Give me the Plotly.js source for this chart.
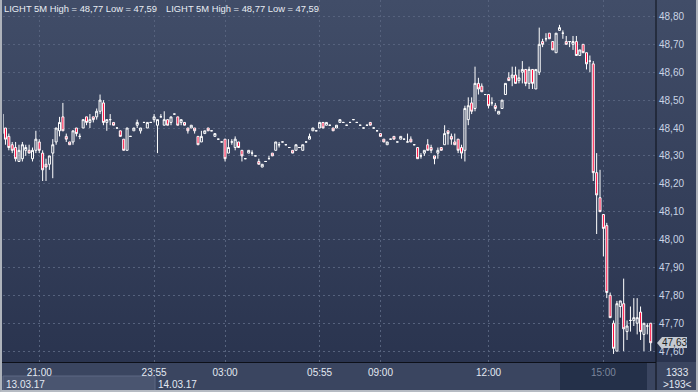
<!DOCTYPE html>
<html>
<head>
<meta charset="utf-8">
<script src="https://cdn.plot.ly/plotly-3.0.1.min.js"></script>
<style>
  html, body { margin: 0; padding: 0; background: #b9bdc5; }
  #wrap { position: relative; width: 698px; height: 392px; overflow: hidden;
          background: linear-gradient(to bottom, #414d68 0px, #2a344f 362px, #3a4560 363px, #3a4560 392px); }
  #chart { position: absolute; left: 0; top: 0; width: 698px; height: 392px; }
  #frame { position: absolute; left: 0; top: 0; width: 698px; height: 392px; box-sizing: border-box;
           border-left: 2px solid #aeb3bb; border-right: 2px solid #aeb3bb; border-bottom: 2px solid #b6bbc3; pointer-events: none; }
</style>
</head>
<body>
<div id="wrap"><div id="chart"></div><div id="frame"></div></div>
<script>
// ---- data: LIGHT 5M candles ----
const open = [48.38,48.40,48.37,48.34,48.33,48.28,48.29,48.32,48.32,48.29,48.32,48.35,48.31,48.27,48.27,48.31,48.35,48.39,48.44,48.37,
48.35,48.35,48.40,48.37,48.40,48.44,48.42,48.44,48.44,48.46,48.49,48.42,48.43,48.42,48.40,48.39,48.36,48.32,48.37,48.39,
48.41,48.39,48.42,48.40,48.42,48.43,48.41,48.44,48.41,48.43,48.42,48.45,48.44,48.42,48.42,48.40,48.40,48.40,48.37,48.35,
48.38,48.40,48.39,48.37,48.36,48.35,48.36,48.31,48.35,48.33,48.35,48.32,48.29,48.31,48.31,48.30,48.28,48.26,48.28,48.29,
48.31,48.32,48.34,48.35,48.34,48.33,48.32,48.32,48.33,48.32,48.35,48.36,48.39,48.39,48.40,48.42,48.41,48.41,48.40,48.40,
48.42,48.42,48.41,48.42,48.43,48.42,48.41,48.40,48.41,48.42,48.40,48.39,48.38,48.36,48.34,48.36,48.37,48.35,48.36,48.36,
48.35,48.36,48.34,48.33,48.30,48.31,48.34,48.33,48.30,48.31,48.33,48.34,48.39,48.37,48.35,48.36,48.33,48.32,48.43,48.49,
48.47,48.56,48.55,48.52,48.52,48.49,48.48,48.45,48.47,48.52,48.58,48.58,48.59,48.57,48.60,48.61,48.56,48.61,48.54,48.60,
48.71,48.72,48.74,48.71,48.67,48.75,48.74,48.71,48.71,48.70,48.71,48.66,48.70,48.67,48.64,48.63,48.24,48.15,48.09,48.05,
47.80,47.70,47.60,47.76,47.77,47.67,47.71,47.71,47.70,47.74,47.66,47.69,47.70];
const high = [48.47,48.40,48.38,48.35,48.35,48.34,48.35,48.34,48.34,48.33,48.39,48.36,48.32,48.29,48.30,48.36,48.40,48.44,48.49,48.38,
48.35,48.39,48.40,48.38,48.43,48.44,48.45,48.44,48.47,48.52,48.50,48.43,48.45,48.42,48.40,48.39,48.36,48.40,48.37,48.40,
48.43,48.40,48.42,48.42,48.42,48.45,48.43,48.45,48.46,48.43,48.44,48.45,48.44,48.43,48.42,48.40,48.41,48.40,48.37,48.39,
48.39,48.40,48.39,48.38,48.36,48.35,48.36,48.36,48.36,48.37,48.35,48.32,48.29,48.32,48.32,48.30,48.29,48.27,48.28,48.30,
48.31,48.35,48.35,48.35,48.34,48.33,48.32,48.34,48.33,48.34,48.35,48.38,48.40,48.39,48.42,48.42,48.42,48.41,48.40,48.41,
48.43,48.42,48.41,48.42,48.43,48.42,48.41,48.40,48.41,48.42,48.40,48.39,48.38,48.36,48.35,48.36,48.37,48.35,48.37,48.36,
48.38,48.37,48.34,48.33,48.31,48.32,48.36,48.34,48.30,48.33,48.33,48.41,48.39,48.38,48.38,48.36,48.34,48.48,48.51,48.51,
48.62,48.58,48.56,48.52,48.52,48.51,48.49,48.46,48.50,48.56,48.60,48.62,48.62,48.61,48.64,48.61,48.62,48.61,48.61,48.76,
48.72,48.74,48.74,48.71,48.74,48.77,48.75,48.73,48.71,48.73,48.73,48.68,48.70,48.67,48.66,48.64,48.31,48.25,48.09,48.06,
47.81,47.71,47.78,47.78,47.86,47.71,47.76,47.79,47.79,47.76,47.70,47.70,47.70];
const low = [48.36,48.34,48.32,48.31,48.28,48.28,48.28,48.30,48.31,48.28,48.31,48.31,48.21,48.21,48.25,48.22,48.34,48.37,48.39,48.35,
48.34,48.34,48.37,48.36,48.40,48.41,48.40,48.42,48.43,48.45,48.41,48.39,48.41,48.41,48.40,48.37,48.32,48.32,48.37,48.39,
48.40,48.38,48.42,48.40,48.42,48.42,48.31,48.44,48.41,48.41,48.41,48.45,48.41,48.41,48.41,48.38,48.40,48.38,48.34,48.35,
48.38,48.39,48.39,48.37,48.36,48.35,48.28,48.31,48.34,48.32,48.33,48.28,48.29,48.31,48.30,48.30,48.27,48.26,48.28,48.29,
48.30,48.32,48.33,48.35,48.34,48.33,48.31,48.32,48.33,48.32,48.35,48.36,48.39,48.39,48.40,48.40,48.41,48.41,48.39,48.40,
48.42,48.42,48.41,48.42,48.43,48.42,48.41,48.40,48.41,48.41,48.40,48.39,48.37,48.35,48.34,48.36,48.36,48.35,48.36,48.36,
48.35,48.35,48.34,48.29,48.29,48.30,48.32,48.31,48.27,48.29,48.32,48.34,48.34,48.34,48.34,48.31,48.29,48.28,48.41,48.45,
48.46,48.52,48.53,48.52,48.47,48.48,48.46,48.45,48.47,48.52,48.57,48.55,48.56,48.56,48.56,48.55,48.54,48.54,48.54,48.59,
48.69,48.71,48.72,48.68,48.67,48.75,48.72,48.70,48.69,48.68,48.66,48.66,48.67,48.61,48.60,48.21,48.02,48.10,47.94,47.79,
47.72,47.59,47.60,47.72,47.60,47.64,47.67,47.69,47.66,47.64,47.60,47.66,47.60];
const close = [48.45,48.36,48.33,48.32,48.29,48.32,48.34,48.33,48.31,48.32,48.36,48.32,48.25,48.26,48.30,48.34,48.40,48.42,48.39,48.36,
48.34,48.39,48.38,48.37,48.43,48.42,48.43,48.43,48.46,48.50,48.42,48.43,48.43,48.41,48.40,48.37,48.32,48.40,48.37,48.40,
48.42,48.40,48.42,48.42,48.42,48.44,48.43,48.44,48.43,48.41,48.44,48.45,48.41,48.43,48.41,48.39,48.41,48.39,48.34,48.37,
48.39,48.39,48.39,48.38,48.36,48.35,48.29,48.33,48.35,48.36,48.33,48.30,48.29,48.32,48.31,48.30,48.27,48.27,48.28,48.29,
48.30,48.35,48.34,48.35,48.34,48.33,48.31,48.34,48.33,48.34,48.35,48.37,48.40,48.39,48.42,48.40,48.42,48.41,48.39,48.41,
48.43,48.42,48.41,48.42,48.43,48.42,48.41,48.40,48.41,48.41,48.40,48.39,48.37,48.35,48.35,48.36,48.36,48.35,48.37,48.36,
48.35,48.35,48.34,48.29,48.30,48.32,48.32,48.32,48.29,48.32,48.32,48.38,48.38,48.36,48.34,48.32,48.31,48.47,48.48,48.46,
48.56,48.54,48.53,48.52,48.48,48.49,48.47,48.46,48.50,48.56,48.57,48.59,48.56,48.58,48.61,48.56,48.61,48.56,48.61,48.70,
48.70,48.72,48.72,48.68,48.74,48.76,48.74,48.70,48.71,48.71,48.66,48.68,48.67,48.63,48.64,48.24,48.16,48.10,48.04,47.81,
47.72,47.61,47.77,47.78,47.68,47.69,47.71,47.72,47.72,47.67,47.70,47.69,47.63];

const timeLabels = ['21:00','23:55','03:00','05:55','09:00','12:00','15:00'];
const timeBars   = [11, 45, 66, 94, 112, 144, 178];
const yTicks = [47.6,47.7,47.8,47.9,48.0,48.1,48.2,48.3,48.4,48.5,48.6,48.7,48.8];
const dateLabels = ['13.03.17','14.03.17'];
const barCount = 1333, visibleBars = 193;
const symbol = 'LIGHT 5M';

// ---- derived ----
const idx = close.map((_, i) => i);
const hi = Math.max(...high), lo = Math.min(...low);
const fmt = v => v.toFixed(2).replace('.', ',');
const legendText = symbol + ' High = ' + fmt(hi) + ' Low = ' + fmt(lo);
const last = close[close.length - 1];

const FONT = 'Liberation Sans, Arial, sans-serif';
const W = 698, H = 392, L = 3, R = 42, T = 0, B = 30;
const pw = W - L - R, ph = H - T - B;
const px = x => (x - L) / pw;          // pixel -> paper x
const py = y => (H - B - y) / ph;      // pixel -> paper y

const trace = {
  type: 'candlestick', x: idx, open: open, high: high, low: low, close: close,
  increasing: { line: { color: '#ffffff', width: 1 }, fillcolor: 'rgba(0,0,0,0)' },
  decreasing: { line: { color: '#ffffff', width: 1 }, fillcolor: '#ff0a3c' },
  whiskerwidth: 0, hoverinfo: 'skip', showlegend: false
};

const tickText = timeLabels.map((t, i) => i === timeLabels.length - 1 ? '<span style="color:#7b869b">' + t + '</span>' : t);

const layout = {
  width: W, height: H,
  margin: { l: L, r: R, t: T, b: B, pad: 0 },
  paper_bgcolor: 'rgba(0,0,0,0)', plot_bgcolor: 'rgba(0,0,0,0)',
  separators: ',.',
  font: { family: FONT, size: 10, color: '#dde4ef' },
  showlegend: false,
  boxgap: 0.15,
  xaxis: {
    range: [0.27, 193.57], autorange: false, rangeslider: { visible: false },
    tickvals: timeBars, ticktext: tickText, ticks: '', showline: false, zeroline: false,
    showgrid: true, gridcolor: '#56627d', griddash: '2px,3px', gridwidth: 1,
    tickfont: { family: FONT, size: 10, color: '#e3e9f2' }, ticklabelstandoff: 3
  },
  yaxis: {
    side: 'right', range: [47.561, 48.859], autorange: false,
    tickvals: yTicks, tickformat: '.2f', ticks: '', zeroline: false,
    showgrid: true, gridcolor: '#56627d', griddash: '2px,3px', gridwidth: 1,
    showline: false, tickfont: { family: FONT, size: 10, color: '#cad4e4' }, ticklabelstandoff: 2
  },
  shapes: [
    { type: 'rect', xref: 'paper', yref: 'paper', x0: px(0), x1: px(698), y0: py(362), y1: py(392), fillcolor: '#3a4560', line: { width: 0 }, layer: 'below' },
    { type: 'rect', xref: 'paper', yref: 'paper', x0: px(560), x1: px(647), y0: py(363), y1: py(392), fillcolor: '#243049', line: { width: 0 }, layer: 'below' },
    { type: 'rect', xref: 'paper', yref: 'paper', x0: px(3), x1: px(155), y0: py(376), y1: py(391), fillcolor: '#4a5570', line: { color: '#5d6983', width: 1 }, layer: 'below' },
    { type: 'line', xref: 'paper', yref: 'paper', x0: px(0), x1: px(656), y0: py(362.5), y1: py(362.5), line: { color: '#0d1019', width: 1 } },
    { type: 'line', xref: 'paper', yref: 'paper', x0: px(656), x1: px(656), y0: py(0), y1: py(392), line: { color: '#0d1019', width: 1 } },
    { type: 'path', xref: 'paper', yref: 'paper', path: 'M ' + px(657) + ' ' + py(343) + ' L ' + px(662) + ' ' + py(337) + ' L ' + px(662) + ' ' + py(349) + ' Z', fillcolor: '#c5cad2', line: { width: 0 } }
  ],
  annotations: [
    { xref: 'paper', yref: 'paper', x: px(2), y: py(8), xanchor: 'left', yanchor: 'middle', text: legendText, showarrow: false, font: { family: FONT, size: 9.4, color: '#e8ecf3' } },
    { xref: 'paper', yref: 'paper', x: px(164), y: py(8), xanchor: 'left', yanchor: 'middle', text: legendText, showarrow: false, font: { family: FONT, size: 9.4, color: '#e8ecf3' } },
    { xref: 'paper', yref: 'paper', x: px(4), y: py(384), xanchor: 'left', yanchor: 'middle', text: dateLabels[0], showarrow: false, font: { family: FONT, size: 10, color: '#e3e9f2' } },
    { xref: 'paper', yref: 'paper', x: px(156), y: py(384), xanchor: 'left', yanchor: 'middle', text: dateLabels[1], showarrow: false, font: { family: FONT, size: 10, color: '#e3e9f2' } },
    { xref: 'paper', yref: 'paper', x: px(677), y: py(372), xanchor: 'center', yanchor: 'middle', text: String(barCount), showarrow: false, font: { family: FONT, size: 10, color: '#e3e9f2' } },
    { xref: 'paper', yref: 'paper', x: px(677), y: py(384), xanchor: 'center', yanchor: 'middle', text: '&gt;' + visibleBars + '&lt;', showarrow: false, font: { family: FONT, size: 10, color: '#e3e9f2' } },
    { xref: 'paper', yref: 'y', x: px(662), y: last, xanchor: 'left', yanchor: 'middle', text: fmt(last), showarrow: false,
      bgcolor: '#c5cad2', borderpad: 0, borderwidth: 0, font: { family: FONT, size: 10, color: '#1b1e24' } }
  ]
};

Plotly.newPlot('chart', [trace], layout, { staticPlot: true, displayModeBar: false });
</script>
</body>
</html>
